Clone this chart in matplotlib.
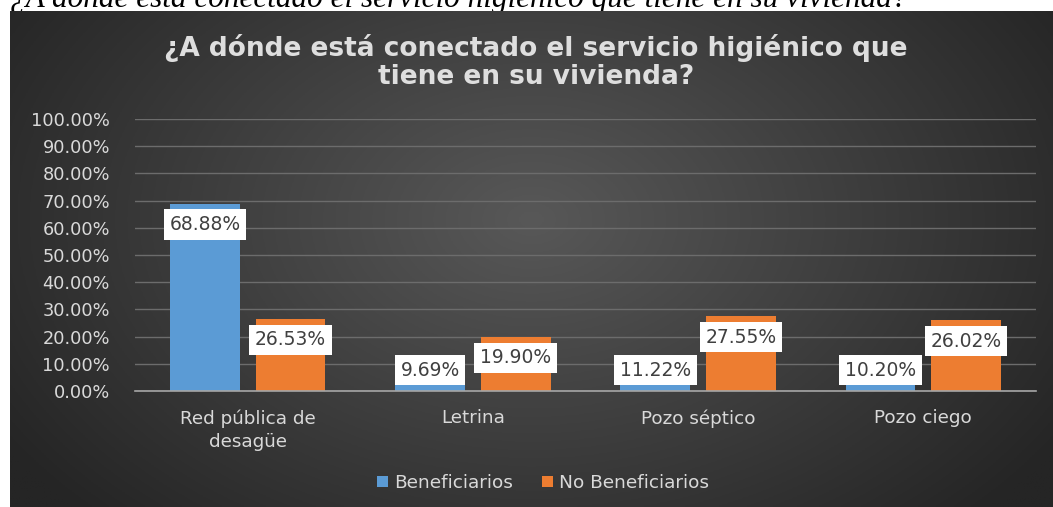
import numpy as np
import matplotlib
matplotlib.use("Agg")
import matplotlib.pyplot as plt

categories = ["Red pública de\ndesagüe", "Letrina", "Pozo séptico", "Pozo ciego"]
beneficiarios = [68.88, 9.69, 11.22, 10.20]
no_beneficiarios = [26.53, 19.90, 27.55, 26.02]
series_names = ["Beneficiarios", "No Beneficiarios"]
yticks = [0, 10, 20, 30, 40, 50, 60, 70, 80, 90, 100]
title = "¿A dónde está conectado el servicio higiénico que\ntiene en su vivienda?"
caption = "¿A dónde está conectado el servicio higiénico que tiene en su vivienda?"

W, H = 1053, 507
fig = plt.figure(figsize=(W / 100, H / 100), dpi=100)
fig.patch.set_facecolor("white")

# cropped caption on top (partially cut off, as in the source image)
fig.text(10 / W, 1 - 7 / H, caption, fontsize=22.5, family="Liberation Serif",
         style="italic", color="black", ha="left", va="baseline", zorder=-1)

# dark gradient background panel
bg = fig.add_axes([10 / W, 0, 1 - 10 / W, 1 - 11 / H], zorder=0)
ny, nx = 200, 400
yy, xx = np.mgrid[0:1:ny * 1j, 0:1:nx * 1j]
r = np.sqrt(((xx - 0.5) / 0.6) ** 2 + ((yy - 0.42) / 0.85) ** 2)
r = np.clip(r, 0, 1)
c0, c1 = 0x58 / 255, 0x25 / 255
val = c0 + (c1 - c0) * r
img = np.dstack([val, val, val])
bg.imshow(img, extent=[0, 1, 0, 1], aspect="auto", origin="upper")
bg.set_axis_off()

# main axes
left, right = 135 / W, 1036 / W
bottom, top = 1 - 391 / H, 1 - 119 / H
ax = fig.add_axes([left, bottom, right - left, top - bottom], zorder=1)
ax.patch.set_alpha(0)

x = np.arange(len(categories))
bw = 0.31
off = 0.19
blue, orange = "#5b9bd5", "#ed7d31"
b1 = ax.bar(x - off, beneficiarios, bw, color=blue, zorder=3, label=series_names[0])
b2 = ax.bar(x + off, no_beneficiarios, bw, color=orange, zorder=3, label=series_names[1])

ax.set_xlim(-0.5, len(categories) - 0.5)
ax.set_ylim(0, 100)
ax.set_yticks(yticks)
ax.set_yticklabels([f"{v:.2f}%" for v in yticks])
ax.set_xticks(x)
ax.set_xticklabels(categories, linespacing=1.4)
ax.tick_params(axis="y", length=0, pad=18, labelsize=12.8, labelcolor="#d9d9d9")
ax.tick_params(axis="x", length=0, pad=13, labelsize=13.2, labelcolor="#d9d9d9")
ax.grid(axis="y", color="#6c6c6c", lw=1, zorder=1)
ax.set_axisbelow(True)
for s in ["top", "right", "left"]:
    ax.spines[s].set_visible(False)
ax.spines["bottom"].set_color("#a6a6a6")
ax.spines["bottom"].set_linewidth(1.2)
ax.spines["bottom"].set_zorder(4)

# data labels (inside end, clamped near base)
lab_off = 7.7
for xs, vals in [(x - off, beneficiarios), (x + off, no_beneficiarios)]:
    for xi, v in zip(xs, vals):
        yc = max(v - lab_off, 7.7)
        ax.text(xi, yc, f"{v:.2f}%", ha="center", va="center", fontsize=13.5,
                color="#404040", zorder=5,
                bbox=dict(boxstyle="square,pad=0.3", fc="white", ec="none"))

# title
fig.text(536 / W, 1 - 62 / H, title, ha="center", va="center", fontsize=19,
         fontweight="bold", color="#dedede", linespacing=1.15, zorder=5)

# legend
leg = fig.legend(handles=[b1, b2], labels=series_names, loc="center",
                 bbox_to_anchor=(543 / W, 1 - 483 / H), ncol=2, frameon=False,
                 fontsize=13.3, labelcolor="#d9d9d9", handlelength=0.6,
                 handleheight=0.6, handletextpad=0.3, columnspacing=1.6)
leg.set_zorder(5)

fig.savefig("out.png", dpi=100, facecolor=fig.get_facecolor())
